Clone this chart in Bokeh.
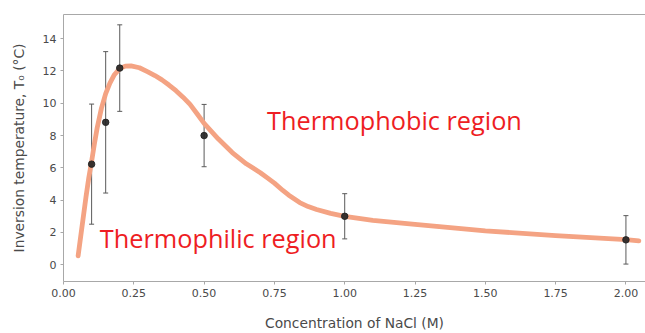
from bokeh.plotting import figure
from bokeh.models import ColumnDataSource, Whisker, LinearAxis, FixedTicker, Range1d
from bokeh.embed import file_html
from bokeh.resources import INLINE
from bokeh.core.properties import value

# measured points
conc = [0.10, 0.15, 0.20, 0.50, 1.00, 2.00]
t0 = [6.23, 8.82, 12.18, 8.0, 3.0, 1.54]
t0_err = [3.72, 4.38, 2.68, 1.93, 1.40, 1.50]

# fitted curve
fit_x = [0.052, 0.06, 0.07, 0.08, 0.09, 0.10, 0.11, 0.12, 0.135, 0.15, 0.165, 0.18,
         0.20, 0.22, 0.24, 0.27, 0.30, 0.325, 0.35, 0.375, 0.40, 0.425, 0.45, 0.475,
         0.50, 0.55, 0.60, 0.65, 0.70, 0.725, 0.75, 0.78, 0.80, 0.84, 0.87, 0.90,
         0.95, 1.00, 1.10, 1.25, 1.50, 1.75, 2.00, 2.046]
fit_y = [0.55, 1.6, 2.9, 4.2, 5.4, 6.4, 7.5, 8.5, 9.7, 10.6, 11.25, 11.75,
         12.15, 12.3, 12.32, 12.2, 11.95, 11.72, 11.45, 11.13, 10.78, 10.38, 9.93, 9.35,
         8.75, 7.8, 6.95, 6.25, 5.7, 5.38, 5.05, 4.6, 4.32, 3.85, 3.6, 3.42,
         3.18, 3.0, 2.75, 2.5, 2.1, 1.8, 1.55, 1.48]

x_ticks = [0.0, 0.25, 0.5, 0.75, 1.0, 1.25, 1.5, 1.75, 2.0]
y_ticks = [0, 2, 4, 6, 8, 10, 12, 14]

region_labels = ["Thermophobic region", "Thermophilic region"]
region_x = [0.724, 0.129]
region_y = [8.96, 1.64]

src = ColumnDataSource(dict(x=conc, y=t0,
                            lo=[a - b for a, b in zip(t0, t0_err)],
                            hi=[a + b for a, b in zip(t0, t0_err)]))

p = figure(width=645, height=333, output_backend="svg", toolbar_location=None,
           x_range=Range1d(0.0, 2.0696), y_range=Range1d(-1.04, 15.5),
           min_border_left=63, min_border_right=0, min_border_top=14,
           min_border_bottom=52)
p.outline_line_color = None
p.grid.visible = False
p.background_fill_color = "white"

spine = "#a8a8a8"
tick_txt = "#4a4a4a"
font = "'DejaVu Sans'"

p.line(fit_x, fit_y, line_color="#f4a383", line_width=4.8, line_cap="round",
       line_join="round")

w = Whisker(source=src, base="x", lower="lo", upper="hi", dimension="height",
            line_color="#5a5a5a", line_width=1)
w.upper_head.size = 5
w.lower_head.size = 5
w.upper_head.line_color = "#5a5a5a"
w.lower_head.line_color = "#5a5a5a"
p.add_layout(w)
p.scatter("x", "y", source=src, size=6.5, color="#222222", alpha=0.9)

p.text(region_x, region_y, text=region_labels, text_color="#ee1d23",
       text_font=value("Open Sans"), text_font_size="25.3px",
       text_baseline="alphabetic", text_align="left")

for ax in (p.xaxis[0], p.yaxis[0]):
    ax.axis_line_color = spine
    ax.major_tick_line_color = spine
    ax.minor_tick_line_color = None
    ax.major_tick_out = 3
    ax.major_tick_in = 0
    ax.major_label_text_font = font
    ax.major_label_text_font_size = "11px"
    ax.major_label_text_color = tick_txt
    ax.axis_label_text_font = font
    ax.axis_label_text_font_size = "13.8px"
    ax.axis_label_text_font_style = "normal"
    ax.axis_label_text_color = tick_txt

p.xaxis[0].ticker = FixedTicker(ticks=x_ticks)
p.xaxis[0].major_label_overrides = {t: f"{t:.2f}" for t in x_ticks}
p.xaxis[0].major_label_standoff = 4
p.xaxis[0].axis_label = "Concentration of NaCl (M)"
p.xaxis[0].axis_label_standoff = 15

p.yaxis[0].ticker = FixedTicker(ticks=y_ticks)
p.yaxis[0].major_label_standoff = 4
p.yaxis[0].axis_label = "Inversion temperature, T\u2080 (\u00b0C)"
p.yaxis[0].axis_label_standoff = 13

top = LinearAxis(ticker=FixedTicker(ticks=[]), axis_line_color=spine,
                 major_tick_line_color=None, minor_tick_line_color=None,
                 major_label_text_font_size="0px", major_tick_out=0,
                 major_tick_in=0, major_label_standoff=0)
p.add_layout(top, "above")

open("out.html", "w").write(file_html(p, INLINE))
